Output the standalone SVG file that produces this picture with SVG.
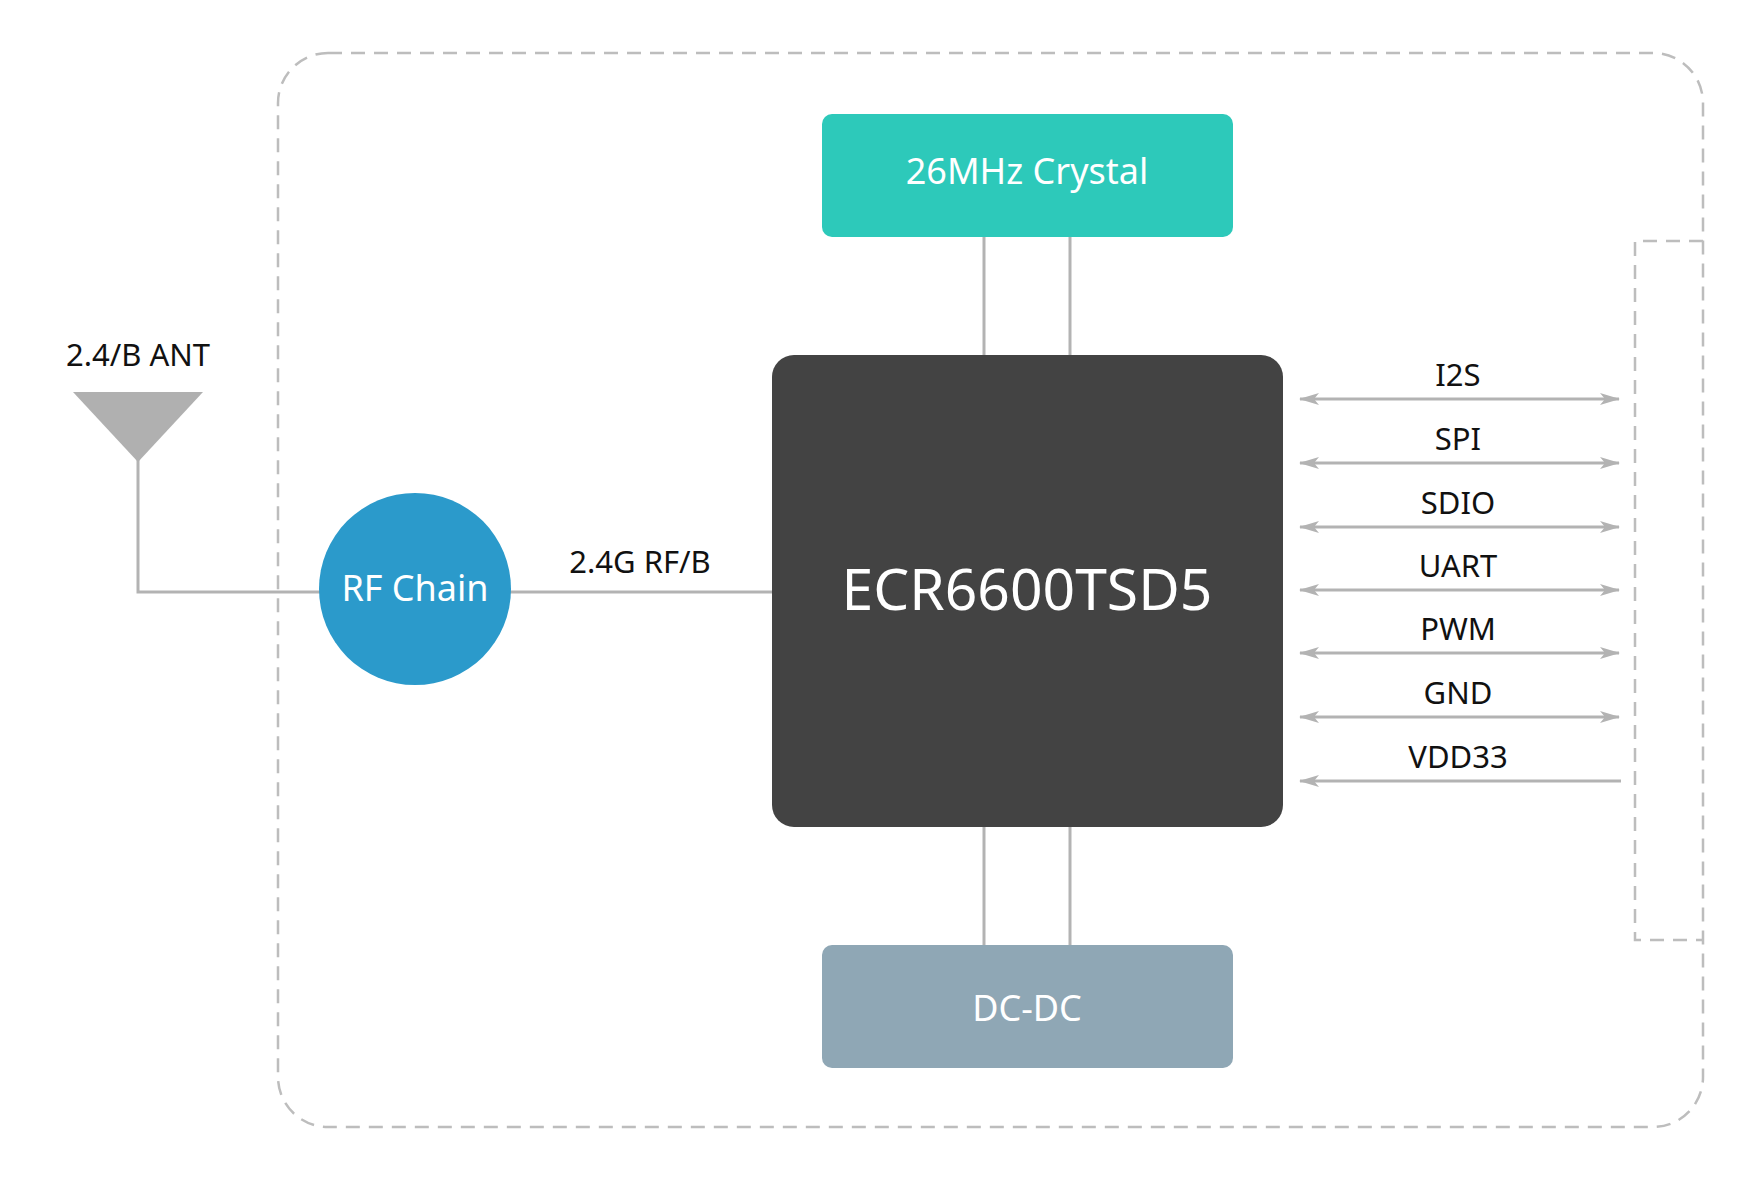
<svg xmlns="http://www.w3.org/2000/svg" width="1753" height="1179" viewBox="0 0 1753 1179">
<style>
.dash{fill:none;stroke:#BDBDBD;stroke-width:2.5;stroke-dasharray:14 9}
.ln{stroke:#B3B3B3;stroke-width:3;fill:none}
.lbl{font-family:"Noto Sans","Liberation Sans",sans-serif;font-size:31px;fill:#111;text-anchor:middle}
.wt{font-family:"Noto Sans","Liberation Sans",sans-serif;fill:#fff;text-anchor:middle}
</style>
<defs>
<marker id="ah" viewBox="0 0 20 12" refX="19" refY="6" markerWidth="20" markerHeight="12" markerUnits="userSpaceOnUse" orient="auto-start-reverse">
<path d="M0,0 L20,6 L0,12 L5,6 Z" fill="#B3B3B3"/>
</marker>
</defs>
<rect width="1753" height="1179" fill="#fff"/>
<rect class="dash" x="278" y="53" width="1425" height="1074" rx="50"/>
<path class="dash" d="M1703,241 H1635 V940 H1703"/>
<g id="connectors">
<line class="ln" x1="984" y1="237" x2="984" y2="355"/>
<line class="ln" x1="1070" y1="237" x2="1070" y2="355"/>
<line class="ln" x1="984" y1="827" x2="984" y2="945"/>
<line class="ln" x1="1070" y1="827" x2="1070" y2="945"/>
<polyline class="ln" points="138,460 138,592 320,592"/>
<line class="ln" x1="510" y1="592" x2="772" y2="592"/>
<line class="ln" x1="1300" y1="399" x2="1619" y2="399" marker-start="url(#ah)" marker-end="url(#ah)"/>
<line class="ln" x1="1300" y1="463" x2="1619" y2="463" marker-start="url(#ah)" marker-end="url(#ah)"/>
<line class="ln" x1="1300" y1="527" x2="1619" y2="527" marker-start="url(#ah)" marker-end="url(#ah)"/>
<line class="ln" x1="1300" y1="590" x2="1619" y2="590" marker-start="url(#ah)" marker-end="url(#ah)"/>
<line class="ln" x1="1300" y1="653" x2="1619" y2="653" marker-start="url(#ah)" marker-end="url(#ah)"/>
<line class="ln" x1="1300" y1="717" x2="1619" y2="717" marker-start="url(#ah)" marker-end="url(#ah)"/>
<line class="ln" x1="1300" y1="781" x2="1621" y2="781" marker-start="url(#ah)"/>
<text class="lbl" x="640" y="573">2.4G RF/B</text>
<text class="lbl" x="1458" y="386">I2S</text>
<text class="lbl" x="1458" y="450">SPI</text>
<text class="lbl" x="1458" y="514">SDIO</text>
<text class="lbl" x="1458" y="577">UART</text>
<text class="lbl" x="1458" y="640">PWM</text>
<text class="lbl" x="1458" y="704">GND</text>
<text class="lbl" x="1458" y="768">VDD33</text>
</g>
<g id="antenna">
<polygon points="73,392 203,392 138,462" fill="#B0B0B0"/>
<text class="lbl" x="138" y="366">2.4/B ANT</text>
</g>
<g id="crystal">
<rect x="822" y="114" width="411" height="123" rx="10" fill="#2DC9BA"/>
<text class="wt" x="1027" y="184" font-size="36">26MHz Crystal</text>
</g>
<g id="chip">
<rect x="772" y="355" width="511" height="472" rx="22" fill="#434343"/>
<text class="wt" x="1027" y="610" font-size="57">ECR6600TSD5</text>
</g>
<g id="dcdc">
<rect x="822" y="945" width="411" height="123" rx="10" fill="#8FA7B5"/>
<text class="wt" x="1027" y="1021" font-size="36">DC-DC</text>
</g>
<g id="rfchain">
<circle cx="415" cy="589" r="96" fill="#2B9ACB"/>
<text class="wt" x="415" y="601" font-size="36">RF Chain</text>
</g>
</svg>
